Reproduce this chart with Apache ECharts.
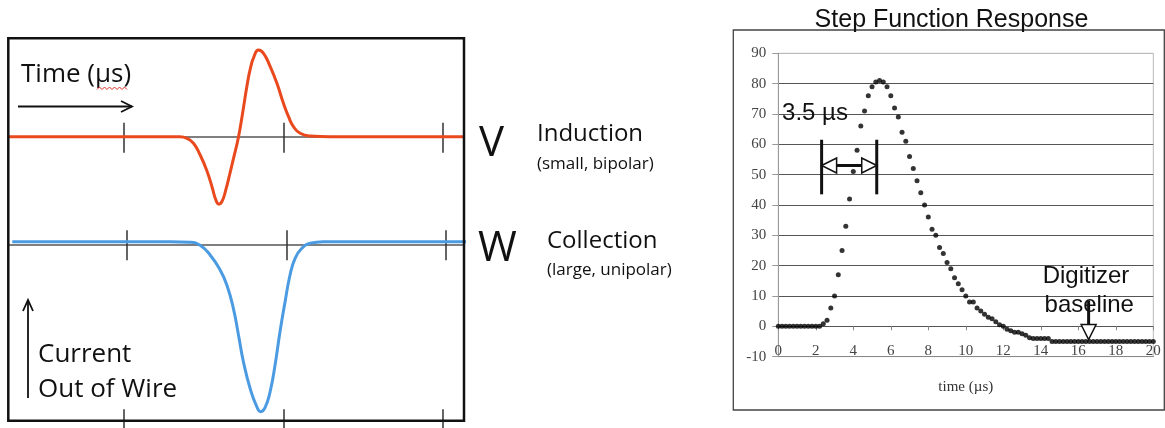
<!DOCTYPE html>
<html>
<head>
<meta charset="utf-8">
<title>Wire signals and step function response</title>
<script src="https://cdn.jsdelivr.net/npm/echarts@6/dist/echarts.min.js"></script>
<style>
html, body { margin: 0; padding: 0; background: #fff; }
#main { width: 1165px; height: 428px; }
</style>
</head>
<body>
<div id="main"></div>
<script>
// left panel, induction wire (bipolar). time unit = distance between two ticks
let inductionTime = [0.27, 1.23, 1.35, 1.394, 1.435, 1.477, 1.519, 1.553, 1.575, 1.594,
    1.615, 1.64, 1.662, 1.686, 1.718, 1.745, 1.77, 1.792, 1.815, 1.843,
    1.875, 1.917, 1.959, 2.0, 2.032, 2.063, 2.105, 2.168, 2.293, 3.134];
let inductionAmp = [0, 0, 0, -0.016, -0.066, -0.183, -0.34, -0.51, -0.63, -0.675,
    -0.645, -0.52, -0.38, -0.22, 0, 0.25, 0.5, 0.68, 0.8, 0.867,
    0.834, 0.7, 0.534, 0.334, 0.2, 0.1, 0.034, 0.007, 0, 0];

// left panel, collection wire (unipolar)
let collectionTime = [0.278, 1.27, 1.395, 1.458, 1.521, 1.584, 1.626, 1.667, 1.699, 1.73,
    1.772, 1.814, 1.839, 1.866, 1.898, 1.929, 1.96, 1.992, 2.023, 2.055,
    2.097, 2.149, 2.232, 3.13];
let collectionAmp = [0.026, 0.026, 0.02, -0.01, -0.107, -0.257, -0.407, -0.64, -0.907, -1.174,
    -1.44, -1.624, -1.674, -1.634, -1.474, -1.207, -0.874, -0.574, -0.307, -0.14,
    -0.04, 0.01, 0.026, 0.026];

let wireTicks = [1, 2, 3];

// right panel, step function response (µs, ADC counts)
let stepTime = [0, 0.2, 0.4, 0.6, 0.8, 1.0, 1.2, 1.4, 1.6, 1.8,
    2.0, 2.2, 2.4, 2.6, 2.8, 3.0, 3.2, 3.4, 3.6, 3.8,
    4.0, 4.2, 4.4, 4.6, 4.8, 5.0, 5.2, 5.4, 5.6, 5.8,
    6.0, 6.2, 6.4, 6.6, 6.8, 7.0, 7.2, 7.4, 7.6, 7.8,
    8.0, 8.2, 8.4, 8.6, 8.8, 9.0, 9.2, 9.4, 9.6, 9.8,
    10.0, 10.2, 10.4, 10.6, 10.8, 11.0, 11.2, 11.4, 11.6, 11.8,
    12.0, 12.2, 12.4, 12.6, 12.8, 13.0, 13.2, 13.4, 13.6, 13.8,
    14.0, 14.2, 14.4, 14.6, 14.8, 15.0, 15.2, 15.4, 15.6, 15.8,
    16.0, 16.2, 16.4, 16.6, 16.8, 17.0, 17.2, 17.4, 17.6, 17.8,
    18.0, 18.2, 18.4, 18.6, 18.8, 19.0, 19.2, 19.4, 19.6, 19.8,
    20.0];
let stepResponse = [0, 0, 0, 0, 0, 0, 0, 0, 0, 0,
    0, 0, 0.8, 2, 6, 10, 17, 25, 33, 42,
    51, 58, 66, 71, 76, 79, 80.5, 81, 80.5, 79,
    76, 72, 69, 64, 61, 56, 52, 48, 44, 40,
    36, 32, 30, 26, 24, 21, 19, 16, 14, 12,
    10, 8, 8, 6, 5, 4, 3, 2.5, 1.5, 0.5,
    0, -1, -1.5, -2, -2, -2.5, -3, -3.8, -4, -4,
    -4, -4, -4, -5, -5, -5, -5, -5, -5, -5,
    -5, -5, -5, -5, -5, -5, -5, -5, -5, -5,
    -5, -5, -5, -5, -5, -5, -5, -5, -5, -5,
    -5];

const red = '#e9491d';
const blue = '#4a9be2';
const sans = '"Open Sans", sans-serif';
const arial = '"Liberation Sans", Arial, sans-serif';
const serif = '"Liberation Serif", "Times New Roman", serif';

function zip(xs, ys) {
    return xs.map(function (x, i) { return [x, ys[i]]; });
}

//tick-only axis for the wire panels
function wireAxis(grid, min, max, position, onZeroY, tickLen, inside, lineShow) {
    return {
        type: 'value', gridIndex: grid, min: min, max: max, position: position,
        axisLine: { show: lineShow, onZero: onZeroY != null, onZeroAxisIndex: onZeroY,
            lineStyle: { color: '#555', width: 1.5 } },
        axisTick: { show: true, inside: inside, length: tickLen, customValues: wireTicks,
            lineStyle: { color: '#333', width: 1.5 } },
        axisLabel: { show: false },
        splitLine: { show: false }
    };
}

let chart = echarts.init(document.getElementById('main'));

let option = {
    animation: false,
    backgroundColor: '#fff',
    grid: [
        { left: 8.3, width: 455.7, top: 36.7, height: 200, outerBoundsMode: 'none' },
        { left: 8.3, width: 455.7, top: 224.3, height: 196, outerBoundsMode: 'none' },
        { left: 778.3, width: 375, top: 53.3, height: 303.3, outerBoundsMode: 'none',
            show: true, borderColor: '#bbb', borderWidth: 1 }
    ],
    xAxis: [
        wireAxis(0, 0.272, 3.134, 'bottom', 0, 16, false, true),
        wireAxis(0, 0.272, 3.134, 'top', 0, 14, false, false),
        wireAxis(1, 0.253, 3.116, 'bottom', 1, 16, false, true),
        wireAxis(1, 0.253, 3.116, 'top', 1, 14, false, false),
        wireAxis(1, 0.272, 3.134, 'bottom', null, 8, false, false),
        wireAxis(1, 0.272, 3.134, 'bottom', null, 11, true, false),
        {
            type: 'value', gridIndex: 2, min: 0, max: 20, interval: 2, position: 'bottom',
            axisLine: { show: true, onZero: false, lineStyle: { color: '#888', width: 1 } },
            axisTick: { show: false },
            axisLabel: { inside: true, margin: -2, color: '#444', fontFamily: serif, fontSize: 15 },
            splitLine: { show: false },
            name: 'time (µs)', nameLocation: 'middle', nameGap: 23,
            nameTextStyle: { color: '#333', fontFamily: serif, fontSize: 15 }
        },
        {
            type: 'value', gridIndex: 2, min: 0, max: 20, interval: 2, position: 'bottom',
            axisLine: { show: false, onZero: true, onZeroAxisIndex: 2 },
            axisTick: { show: true, length: 4, lineStyle: { color: '#888' } },
            axisLabel: { show: false },
            splitLine: { show: false }
        }
    ],
    yAxis: [
        { type: 'value', gridIndex: 0, min: -1, max: 1, show: false },
        { type: 'value', gridIndex: 1, min: -1.76, max: 0.2, show: false },
        {
            type: 'value', gridIndex: 2, min: -10, max: 90, interval: 10,
            axisLine: { show: true, lineStyle: { color: '#999' } },
            axisTick: { show: true, length: 6, lineStyle: { color: '#999' } },
            axisLabel: { color: '#444', fontFamily: serif, fontSize: 15, margin: 12 },
            splitLine: { show: true, lineStyle: { width: 1,
                color: ['#888', '#555', '#555', '#555', '#555', '#555', '#555', '#555', '#555', '#555', '#bbb'] } }
        }
    ],
    series: [
        {
            name: 'Induction', type: 'line', xAxisIndex: 0, yAxisIndex: 0,
            data: zip(inductionTime, inductionAmp),
            smooth: 0.5, showSymbol: false, silent: true,
            lineStyle: { color: red, width: 3 }, itemStyle: { color: red }
        },
        {
            name: 'Collection', type: 'line', xAxisIndex: 2, yAxisIndex: 1,
            data: zip(collectionTime, collectionAmp), clip: false,
            smooth: 0.5, showSymbol: false, silent: true,
            lineStyle: { color: blue, width: 3 }, itemStyle: { color: blue }
        },
        {
            name: 'Step Function Response', type: 'scatter', xAxisIndex: 6, yAxisIndex: 2,
            data: zip(stepTime, stepResponse),
            symbolSize: 5, itemStyle: { color: '#000' }, silent: true
        }
    ]
};
chart.setOption(option);

function text(str, x, y, size, family, align, weight) {
    return {
        type: 'text', silent: true, z: 100,
        style: {
            text: str, x: x, y: y, font: (weight || 'normal') + ' ' + size + 'px ' + family, fill: '#111',
            textAlign: align || 'left', textVerticalAlign: 'middle',
            align: align || 'left', verticalAlign: 'middle'
        }
    };
}
function line(points, width, color) {
    return {
        type: 'polyline', silent: true, z: 100,
        shape: { points: points },
        style: { stroke: color || '#111', lineWidth: width, fill: null }
    };
}
function tri(points) {
    return {
        type: 'polygon', silent: true, z: 101,
        shape: { points: points },
        style: { fill: '#fff', stroke: '#111', lineWidth: 1.5 }
    };
}
function px(x, y) {
    return chart.convertToPixel({ seriesIndex: 2 }, [x, y]);
}

// red spell-check squiggle under "µs"
let squiggle = [];
for (let sx = 97, k = 0; sx <= 128; sx += 2.5, k++) {
    squiggle.push([sx, k % 2 ? 87 : 89.5]);
}

let graphics = [
    { type: 'rect', silent: true, z: 90, shape: { x: 8.3, y: 38.3, width: 455.7, height: 382.4 },
        style: { fill: 'rgba(0,0,0,0)', stroke: '#111', lineWidth: 2.5 } },
    { type: 'rect', silent: true, z: 90, shape: { x: 733.3, y: 30, width: 431, height: 380 },
        style: { fill: 'rgba(0,0,0,0)', stroke: '#444', lineWidth: 1.3 } },
    text('Time (µs)', 21, 75, 26, sans),
    line(squiggle, 1, '#e03030'),
    line([[18, 106.5], [132, 106.5]], 1.8),
    line([[121, 101], [132, 106.5], [121, 112]], 1.8),
    line([[28, 398], [28, 300]], 1.8),
    line([[23, 311], [28, 300], [33, 311]], 1.8),
    text('Current', 38, 355, 26, sans),
    text('Out of Wire', 38, 390, 26, sans),
    text('V', 479, 144, 42, sans, 'left', 500),
    text('Induction', 537, 134, 24, sans),
    text('(small, bipolar)', 537, 164, 17, sans),
    text('W', 478, 249, 42, sans, 'left', 500),
    text('Collection', 547, 241, 24, sans),
    text('(large, unipolar)', 547, 270, 17, sans),
    text('Step Function Response', 951.5, 20, 25, arial, 'center')
];

// 3.5 µs shaping-time bracket
let barL = px(2.31, 0)[0], barR = px(5.25, 0)[0];
let barTop = px(0, 61.5)[1], barBot = px(0, 43.5)[1], arrowY = px(0, 53)[1];
graphics.push(line([[barL, barTop], [barL, barBot]], 3));
graphics.push(line([[barR, barTop], [barR, barBot]], 3));
graphics.push(line([[barL + 15, arrowY], [barR - 15, arrowY]], 3));
graphics.push(tri([[barL, arrowY], [barL + 15, arrowY - 7.5], [barL + 15, arrowY + 7.5]]));
graphics.push(tri([[barR, arrowY], [barR - 15, arrowY - 7.5], [barR - 15, arrowY + 7.5]]));
let t35 = px(0.2, 70.3);
graphics.push(text('3.5 µs', t35[0], t35[1], 24, arial));

// digitizer baseline pointer
let d1 = px(14.1, 16.5), d2 = px(14.2, 6.8);
graphics.push(text('Digitizer', d1[0], d1[1], 24, arial));
graphics.push(text('baseline', d2[0], d2[1], 24, arial));
let shaftTop = px(16.55, 8.5), headBase = px(16.55, 0.56), tip = px(16.55, -4.4);
graphics.push(line([shaftTop, headBase], 3));
graphics.push(tri([[headBase[0] - 7.5, headBase[1]], [headBase[0] + 7.5, headBase[1]], tip]));

chart.setOption({ graphic: graphics });
</script>
</body>
</html>
